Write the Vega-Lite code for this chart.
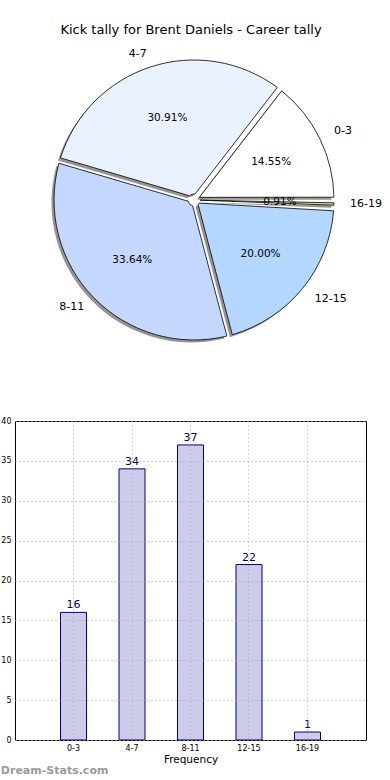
{
  "$schema": "https://vega.github.io/schema/vega-lite/v6.json",
  "padding": {"top": 24, "left": 0, "right": 0, "bottom": 0},
  "background": "white",
  "config": {"font": "DejaVu Sans"},
  "datasets": {
    "tally": [
      {"i": 0, "bin": "0-3", "count": 16, "pct": "14.55%"},
      {"i": 1, "bin": "4-7", "count": 34, "pct": "30.91%"},
      {"i": 2, "bin": "8-11", "count": 37, "pct": "33.64%"},
      {"i": 3, "bin": "12-15", "count": 22, "pct": "20.00%"},
      {"i": 4, "bin": "16-19", "count": 1, "pct": "0.91%"}
    ]
  },
  "spacing": 55,
  "vconcat": [
    {
      "width": 358,
      "height": 322,
      "view": {"stroke": null},
      "title": {"text": "Kick tally for Brent Daniels - Career tally", "fontSize": 13, "fontWeight": "normal", "offset": 2, "color": "black", "dx": -3},
      "data": {"name": "tally"},
      "encoding": {
        "theta": {"field": "count", "type": "quantitative", "stack": true, "scale": {"range": [1.5707963, -4.712389]}},
        "order": {"field": "i", "type": "quantitative"}
      },
      "layer": [
        {"mark": {"type": "arc", "outerRadius": 140, "innerRadius": 6, "padAngle": 0.04, "xOffset": -2.5, "yOffset": 2.5, "fill": "#7a7a7a", "fillOpacity": 0.8}},
        {
          "mark": {"type": "arc", "outerRadius": 140, "innerRadius": 6, "padAngle": 0.04, "stroke": "black", "strokeWidth": 0.8},
          "encoding": {
            "color": {"field": "bin", "type": "nominal", "legend": null,
              "scale": {"domain": ["0-3", "4-7", "8-11", "12-15", "16-19"], "range": ["#ffffff", "#eaf2ff", "#c4d8ff", "#b3d7ff", "#c8e68a"]}}
          }
        },
        {"mark": {"type": "text", "radius": 86, "fontSize": 10.5, "color": "black"}, "encoding": {"text": {"field": "pct"}}},
        {
          "mark": {"type": "text", "radius": 153, "fontSize": 11, "color": "black", "align": "right"},
          "encoding": {"text": {"condition": {"test": "datum.i == 1 || datum.i == 2", "field": "bin"}, "value": ""}}
        },
        {
          "mark": {"type": "text", "radius": 156, "fontSize": 11, "color": "black", "align": "left"},
          "encoding": {"text": {"condition": {"test": "datum.i != 1 && datum.i != 2", "field": "bin"}, "value": ""}}
        }
      ]
    },
    {
      "width": 351,
      "height": 319,
      "view": {"stroke": "black", "strokeWidth": 1},
      "data": {"name": "tally"},
      "title": {"text": "Dream-Stats.com", "orient": "bottom", "anchor": "start", "frame": "bounds", "color": "#9a9a9a", "fontSize": 11, "fontWeight": "bold", "offset": 0},
      "encoding": {
        "x": {
          "field": "bin", "type": "ordinal", "sort": ["0-3", "4-7", "8-11", "12-15", "16-19"],
          "scale": {"paddingInner": 0.555, "paddingOuter": 0.778},
          "axis": {"title": "Frequency", "labelAngle": 0, "grid": true, "gridDash": [1, 3], "gridColor": "#a8a8a8", "bandPosition": 0.5, "domain": false, "ticks": false, "labelFontSize": 8, "labelColor": "black", "titleFontSize": 10.5, "titleFontWeight": "normal", "titleColor": "black", "labelPadding": 4, "titlePadding": 2, "zindex": 1}
        },
        "y": {
          "field": "count", "type": "quantitative", "scale": {"domain": [0, 40]},
          "axis": {"title": null, "values": [0, 5, 10, 15, 20, 25, 30, 35, 40], "grid": true, "gridDash": [1, 3], "gridColor": "#a8a8a8", "domain": false, "ticks": false, "labelFontSize": 8, "labelColor": "black", "labelPadding": 4, "minExtent": 0, "zindex": 1}
        }
      },
      "layer": [
        {"mark": {"type": "bar", "fill": "#ccccea", "stroke": "#000080", "strokeWidth": 1}},
        {"mark": {"type": "text", "dy": -7, "fontSize": 11, "color": "#000080"}, "encoding": {"text": {"field": "count", "type": "quantitative"}}}
      ]
    }
  ]
}
